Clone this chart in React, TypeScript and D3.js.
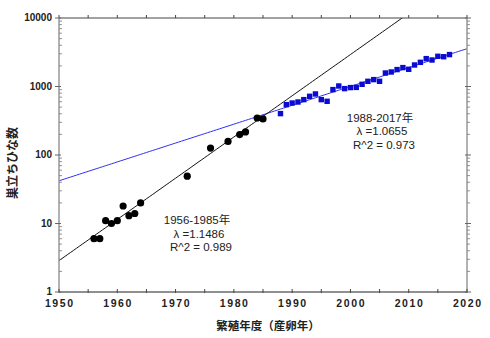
import React from "react";
import * as d3 from "d3";

const earlyYears = [1956, 1957, 1958, 1959, 1960, 1961, 1962, 1963, 1964, 1972, 1976, 1979, 1981, 1982, 1984, 1985];
const earlyCounts = [6, 6, 11, 10, 11, 18, 13, 14, 20, 49, 126, 158, 199, 217, 347, 336];

const lateYears = [1988, 1989, 1990, 1991, 1992, 1993, 1994, 1995, 1996, 1997, 1998, 1999, 2000, 2001, 2002, 2003, 2004, 2005, 2006, 2007, 2008, 2009, 2010, 2011, 2012, 2013, 2014, 2015, 2016, 2017];
const lateCounts = [402, 544, 574, 594, 643, 719, 778, 643, 608, 901, 1017, 931, 964, 970, 1077, 1191, 1260, 1191, 1574, 1629, 1766, 1888, 1784, 2061, 2254, 2552, 2437, 2760, 2720, 2924];

// fitted exponential models: value(year) = base * lambda^(year-1950)
const earlyFit = { base: 2.87, lambda: 1.1486 };
const lateFit = { base: 42, lambda: 1.0655 };

const xTickYears = [1950, 1955, 1960, 1965, 1970, 1975, 1980, 1985, 1990, 1995, 2000, 2005, 2010, 2015, 2020];
const xLabelYears = [1950, 1960, 1970, 1980, 1990, 2000, 2010, 2020];
const yMajor = [1, 10, 100, 1000, 10000];

const earlyText = ["1956-1985年", "λ =1.1486", "R^2 = 0.989"];
const lateText = ["1988-2017年", "λ =1.0655", "R^2 = 0.973"];

export default function App() {
  const W = 490, H = 338;
  const L = 59, R = 467, T = 18, B = 292;
  const x = d3.scaleLinear().domain([1950, 2020]).range([L, R]);
  const y = d3.scaleLog().domain([1, 10000]).range([B, T]);

  const minor: number[] = [];
  for (let d = 1; d < 10000; d *= 10) for (let k = 2; k <= 9; k++) minor.push(d * k);

  const fitLine = (f: { base: number; lambda: number }) => {
    const pts: [number, number][] = [];
    for (let yr = 1950; yr <= 2020; yr += 0.5) pts.push([yr, f.base * Math.pow(f.lambda, yr - 1950)]);
    return d3.line<[number, number]>().x((d) => x(d[0])).y((d) => y(d[1]))(pts) || "";
  };

  const tickFont = "'Liberation Sans', Arial, sans-serif";
  const ann = "'Liberation Sans', 'Noto Sans CJK JP', sans-serif";
  const jp = "'Noto Sans CJK JP', 'Noto Sans', sans-serif";

  return (
    <svg width={W} height={H} style={{ position: "absolute", left: 0, top: 0, background: "#fff" }}>
      <defs>
        <clipPath id="plot">
          <rect x={L} y={T} width={R - L} height={B - T} />
        </clipPath>
      </defs>

      {/* fit lines */}
      <g clipPath="url(#plot)">
        <path d={fitLine(lateFit)} fill="none" stroke="#3030f0" strokeWidth={1} />
        <path d={fitLine(earlyFit)} fill="none" stroke="#111" strokeWidth={1} />
      </g>

      {/* frame */}
      <line x1={L} x2={R} y1={T} y2={T} stroke="#444" strokeWidth={1} />
      <line x1={L} x2={R} y1={B} y2={B} stroke="#222" strokeWidth={1.2} />
      <line x1={L} x2={L} y1={T} y2={B} stroke="#999" strokeWidth={1.5} />
      <line x1={R} x2={R} y1={T} y2={B} stroke="#999" strokeWidth={1.5} />

      {/* x ticks */}
      {xTickYears.map((yr) => (
        <g key={"xt" + yr}>
          <line x1={x(yr)} x2={x(yr)} y1={T - 3} y2={T} stroke="#444" />
          <line x1={x(yr)} x2={x(yr)} y1={B - 3} y2={B + 1} stroke="#444" />
        </g>
      ))}
      {xLabelYears.map((yr) => (
        <text key={"xl" + yr} x={x(yr) + 0.8} y={307} textAnchor="middle" fontFamily={tickFont} fontWeight="bold"
          fontSize={10.5} letterSpacing={1.6} fill="#222">{yr}</text>
      ))}

      {/* y ticks */}
      {yMajor.map((v) => (
        <g key={"ym" + v}>
          <line x1={L - 4} x2={L + 2} y1={y(v)} y2={y(v)} stroke="#666" />
          <line x1={R - 2} x2={R + 4} y1={y(v)} y2={y(v)} stroke="#666" />
          <text x={52} y={y(v) + 3.4} textAnchor="end" fontFamily={tickFont} fontWeight="bold" fontSize={10} fill="#222">{v}</text>
        </g>
      ))}
      {minor.map((v) => (
        <g key={"yn" + v}>
          <line x1={L} x2={L + 3} y1={y(v)} y2={y(v)} stroke="#777" strokeWidth={0.8} />
          <line x1={R} x2={R + 3} y1={y(v)} y2={y(v)} stroke="#777" strokeWidth={0.8} />
        </g>
      ))}

      {/* points */}
      {earlyYears.map((yr, i) => (
        <circle key={"c" + yr} cx={x(yr)} cy={y(earlyCounts[i])} r={3.6} fill="#000" />
      ))}
      {lateYears.map((yr, i) => (
        <rect key={"s" + yr} x={x(yr) - 2.7} y={y(lateCounts[i]) - 2.7} width={5.4} height={5.4} fill="#0a0ad2" />
      ))}

      {/* annotations */}
      {earlyText.map((t, i) => (
        <text key={"et" + i} x={199 + (i === 0 ? -2 : i === 2 ? 2 : 0)} y={224 + i * 13.7} textAnchor="middle"
          fontFamily={ann} fontSize={11.5} fill="#222">{t}</text>
      ))}
      {lateText.map((t, i) => (
        <text key={"lt" + i} x={382 + (i === 0 ? -2 : i === 2 ? 2 : 0)} y={121.5 + i * 13.7} textAnchor="middle"
          fontFamily={ann} fontSize={11.5} fill="#222">{t}</text>
      ))}

      {/* axis titles */}
      <text x={268} y={330} textAnchor="middle" fontFamily={jp} fontWeight="bold" fontSize={11.5} fill="#222">繁殖年度（産卵年）</text>
      <text transform={`translate(17,163) rotate(-90)`} textAnchor="middle" fontFamily={jp} fontWeight="bold" fontSize={12} fill="#222">巣立ちひな数</text>
    </svg>
  );
}
